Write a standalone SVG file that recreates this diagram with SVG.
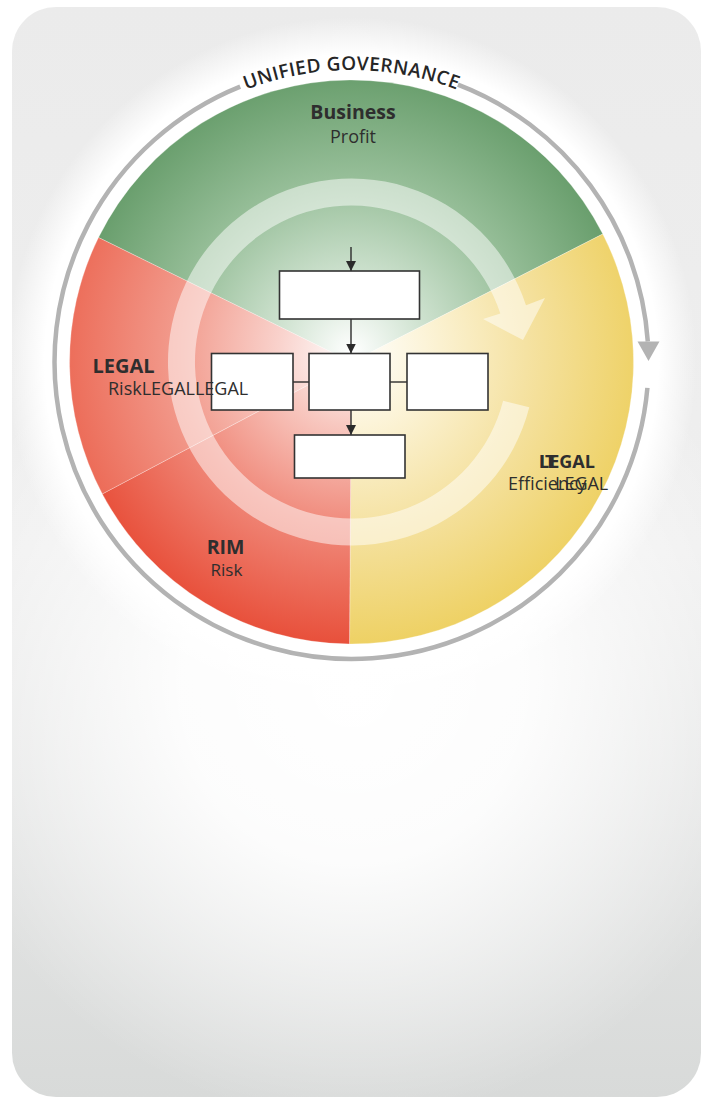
<svg xmlns="http://www.w3.org/2000/svg" width="706" height="1098" viewBox="0 0 706 1098">
  <defs>
    <linearGradient id="cardBase" x1="0" y1="0" x2="0" y2="1">
      <stop offset="0" stop-color="#ebebeb"/>
      <stop offset="0.5" stop-color="#efefef"/>
      <stop offset="1" stop-color="#d8dad9"/>
    </linearGradient>
    <radialGradient id="cardGlow" gradientUnits="userSpaceOnUse" cx="353" cy="690" r="430">
      <stop offset="0" stop-color="#ffffff" stop-opacity="1"/>
      <stop offset="0.4" stop-color="#ffffff" stop-opacity="0.9"/>
      <stop offset="1" stop-color="#ffffff" stop-opacity="0"/>
    </radialGradient>
    <radialGradient id="halo" gradientUnits="userSpaceOnUse" cx="351.5" cy="362" r="345">
      <stop offset="0" stop-color="#ffffff" stop-opacity="1"/>
      <stop offset="0.89" stop-color="#ffffff" stop-opacity="1"/>
      <stop offset="1" stop-color="#ffffff" stop-opacity="0"/>
    </radialGradient>
    <radialGradient id="gGreen" gradientUnits="userSpaceOnUse" cx="351.5" cy="352" r="292">
      <stop offset="0" stop-color="#ffffff"/>
      <stop offset="0.25" stop-color="#d0e3d1"/>
      <stop offset="0.6" stop-color="#96be98"/>
      <stop offset="1" stop-color="#639a67"/>
    </radialGradient>
    <radialGradient id="gRedUp" gradientUnits="userSpaceOnUse" cx="351.5" cy="352" r="292">
      <stop offset="0" stop-color="#ffffff"/>
      <stop offset="0.25" stop-color="#f9d2cc"/>
      <stop offset="0.6" stop-color="#f29b8d"/>
      <stop offset="1" stop-color="#ec6a56"/>
    </radialGradient>
    <radialGradient id="gRedLow" gradientUnits="userSpaceOnUse" cx="351.5" cy="352" r="292">
      <stop offset="0" stop-color="#ffffff"/>
      <stop offset="0.25" stop-color="#f8c9c1"/>
      <stop offset="0.6" stop-color="#f0897a"/>
      <stop offset="1" stop-color="#e8503b"/>
    </radialGradient>
    <radialGradient id="gYellow" gradientUnits="userSpaceOnUse" cx="351.5" cy="352" r="292">
      <stop offset="0" stop-color="#ffffff"/>
      <stop offset="0.25" stop-color="#fcf4d9"/>
      <stop offset="0.6" stop-color="#f5e2a2"/>
      <stop offset="1" stop-color="#eed164"/>
    </radialGradient>
    <marker id="arrow" markerUnits="userSpaceOnUse" markerWidth="11" markerHeight="10" refX="10" refY="5" orient="auto">
      <path d="M0,0 L10,5 L0,10 Z" fill="#2b2b2b"/>
    </marker>
    <path id="govPath" d="M 228.1,97.4 A 292 292 0 0 1 474.9,97.4"/>
    <style>
      .sector { stroke: #ffffff; stroke-opacity: 0.35; stroke-width: 0.8; }
      .box { fill: #ffffff; stroke: #333333; stroke-width: 1.6; }
      .conn { stroke: #2b2b2b; stroke-width: 1.4; fill: none; }
      .gov { fill: none; stroke: #b3b3b3; stroke-width: 4.5; }
      .lbl { font-family: "Open Sans", "Noto Sans", "DejaVu Sans", sans-serif; fill: #2e2e2e; }
      .b { font-weight: 700; }
      .govtxt { font-family: "Open Sans", "Noto Sans", "DejaVu Sans", sans-serif; font-weight: 600; font-size: 19px; fill: #262626; letter-spacing: 0.4px; }
    </style>
  </defs>

  <g id="card">
    <rect x="12" y="7" width="689" height="1090" rx="44" ry="44" fill="url(#cardBase)"/>
    <rect x="12" y="7" width="689" height="1090" rx="44" ry="44" fill="url(#cardGlow)"/>
  </g>

  <g id="halo-disc">
    <circle cx="351.5" cy="362" r="345" fill="url(#halo)"/>
  </g>

  <g id="sector-business">
    <path class="sector" fill="url(#gGreen)" d="M351.5,362 L98.5,237.5 A282,282 0 0 1 602.8,234 Z"/>
  </g>
  <g id="sector-efficiency">
    <path class="sector" fill="url(#gYellow)" d="M351.5,362 L602.8,234 A282,282 0 0 1 349.5,644 Z"/>
  </g>
  <g id="sector-rim">
    <path class="sector" fill="url(#gRedLow)" d="M351.5,362 L349.5,644 A282,282 0 0 1 102.3,493.9 Z"/>
  </g>
  <g id="sector-legal">
    <path class="sector" fill="url(#gRedUp)" d="M351.5,362 L102.3,493.9 A282,282 0 0 1 98.5,237.5 Z"/>
  </g>

  <g id="cycle-arrow">
    <path fill="#ffffff" fill-opacity="0.5" d="M503.1,400.7 L529.3,407.3 A183.5,183.5 0 1 1 526,305.3 L545,298 L523,340 L483,319 L500.3,313.6 A156.5,156.5 0 1 0 503.1,400.7 Z"/>
  </g>

  <g id="unified-governance">
    <path class="gov" d="M457.9,84.7 A297,297 0 0 1 647.8,341.5"/>
    <polygon points="637.5,341.5 659.5,341.5 648.5,361" fill="#b3b3b3"/>
    <path class="gov" d="M647.4,387.9 A297,297 0 1 1 240.2,86.6"/>
    <text class="govtxt" text-anchor="middle"><textPath href="#govPath" startOffset="50%">UNIFIED GOVERNANCE</textPath></text>
  </g>

  <g id="connectors">
    <line class="conn" x1="351" y1="247" x2="351" y2="271" marker-end="url(#arrow)"/>
    <line class="conn" x1="351" y1="319" x2="351" y2="353.5" marker-end="url(#arrow)"/>
    <line class="conn" x1="351" y1="410" x2="351" y2="435" marker-end="url(#arrow)"/>
    <line class="conn" x1="293" y1="382" x2="309" y2="382"/>
    <line class="conn" x1="390" y1="382" x2="407" y2="382"/>
  </g>

  <g id="box-top"><rect class="box" x="279.5" y="271" width="140" height="48"/></g>
  <g id="box-middle"><rect class="box" x="309" y="353.5" width="81" height="56.5"/></g>
  <g id="box-left"><rect class="box" x="211.5" y="353.5" width="81.5" height="56.5"/></g>
  <g id="box-right"><rect class="box" x="407" y="353.5" width="81" height="56.5"/></g>
  <g id="box-bottom"><rect class="box" x="294.5" y="435" width="110.5" height="43"/></g>

  <g id="label-business">
    <text class="lbl b" x="353" y="119" font-size="19.5" text-anchor="middle">Business</text>
    <text class="lbl" x="353" y="143" font-size="18" text-anchor="middle">Profit</text>
  </g>
  <g id="label-legal">
    <text class="lbl b" x="92.5" y="373" font-size="20">LEGAL</text>
    <text class="lbl" x="108" y="395" font-size="18">RiskLEGALLEGAL</text>
  </g>
  <g id="label-it">
    <text class="lbl b" x="539" y="468" font-size="18">LEGAL</text>
    <text class="lbl b" x="539" y="468" font-size="18">IT</text>
    <text class="lbl" x="508" y="490" font-size="18">Efficiency</text>
    <text class="lbl" x="555" y="490" font-size="18">LEGAL</text>
  </g>
  <g id="label-rim">
    <text class="lbl b" x="225.5" y="554" font-size="19.5" text-anchor="middle">RIM</text>
    <text class="lbl" x="226.5" y="576" font-size="17" text-anchor="middle">Risk</text>
  </g>
</svg>
